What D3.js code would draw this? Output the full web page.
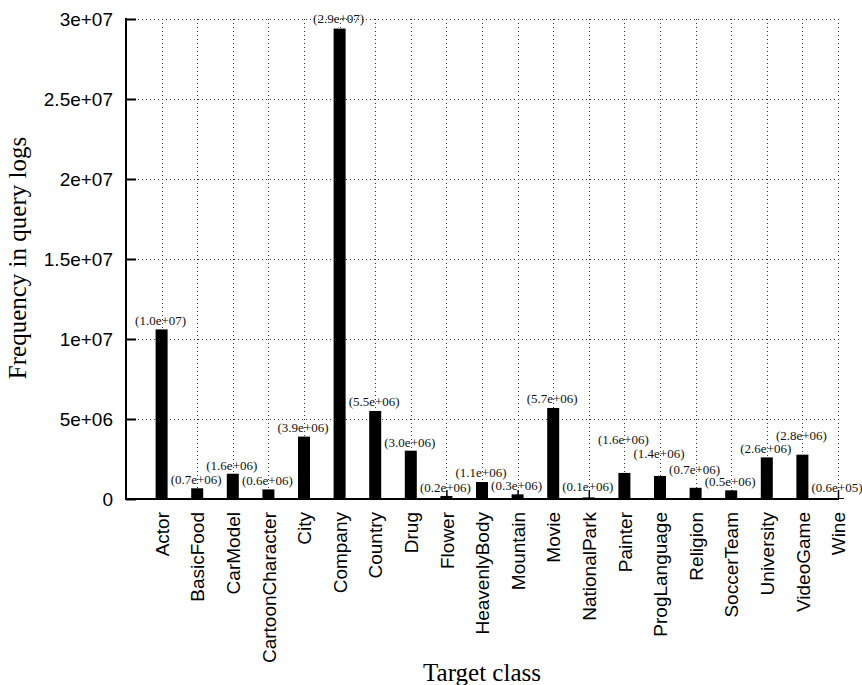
<!DOCTYPE html>
<html lang="en">
<head>
  <meta charset="UTF-8" />
  <title>Frequency in query logs by target class</title>
  <script src="https://cdn.jsdelivr.net/npm/d3@7"></script>
  <style>
    html, body { margin: 0; padding: 0; background: #fff; }
    svg { display: block; }
  </style>
</head>
<body>
  <script>
    // ----------------------------
    // Data
    // ----------------------------
    const classes = ["Actor", "BasicFood", "CarModel", "CartoonCharacter", "City", "Company",
      "Country", "Drug", "Flower", "HeavenlyBody", "Mountain", "Movie", "NationalPark",
      "Painter", "ProgLanguage", "Religion", "SoccerTeam", "University", "VideoGame", "Wine"];
    const frequency = [1.06e7, 0.67e6, 1.58e6, 0.60e6, 3.9e6, 2.94e7,
      5.5e6, 3.02e6, 0.19e6, 1.06e6, 0.29e6, 5.69e6, 0.10e6,
      1.63e6, 1.44e6, 0.70e6, 0.54e6, 2.6e6, 2.77e6, 0.06e6];
    const valueLabels = ["(1.0e+07)", "(0.7e+06)", "(1.6e+06)", "(0.6e+06)", "(3.9e+06)", "(2.9e+07)",
      "(5.5e+06)", "(3.0e+06)", "(0.2e+06)", "(1.1e+06)", "(0.3e+06)", "(5.7e+06)", "(0.1e+06)",
      "(1.6e+06)", "(1.4e+06)", "(0.7e+06)", "(0.5e+06)", "(2.6e+06)", "(2.8e+06)", "(0.6e+05)"];
    const yTicks = [0, 5e6, 1e7, 1.5e7, 2e7, 2.5e7, 3e7];
    const yTickLabels = ["0", "5e+06", "1e+07", "1.5e+07", "2e+07", "2.5e+07", "3e+07"];

    // layout: how far (px) each value label sits above its bar
    const labelRaise = [4, 4, 4, 4, 5, 6, 5, 4, 4, 5, 4, 5, 6, 29, 18, 14, 4, 4, 15, 6];

    // ----------------------------
    // Dimensions
    // ----------------------------
    const width = 862, height = 685;
    const plotLeft = 126, plotRight = 838, plotTop = 19, plotBottom = 499;
    const barWidth = 12;
    const serif = "'Liberation Serif', 'Times New Roman', serif";
    const sans = "'Liberation Sans', Arial, sans-serif";

    const svg = d3.select("body").append("svg")
      .attr("width", width)
      .attr("height", height);

    // x is an index scale: -1 .. 19, like the gnuplot xrange
    const x = d3.scaleLinear().domain([-1, classes.length - 1]).range([plotLeft, plotRight]);
    const y = d3.scaleLinear().domain([0, 3e7]).range([plotBottom, plotTop]);

    // ----------------------------
    // Dotted grid
    // ----------------------------
    const grid = svg.append("g")
      .attr("stroke", "#333")
      .attr("stroke-width", 1)
      .attr("stroke-dasharray", "1,3")
      .attr("shape-rendering", "crispEdges");

    grid.selectAll("line.h")
      .data(yTicks.slice(1))
      .join("line")
        .attr("class", "h")
        .attr("x1", plotLeft).attr("x2", plotRight)
        .attr("y1", d => Math.round(y(d)) + 0.5)
        .attr("y2", d => Math.round(y(d)) + 0.5);

    grid.selectAll("line.v")
      .data(classes)
      .join("line")
        .attr("class", "v")
        .attr("x1", (d, i) => Math.round(x(i)) + 0.5)
        .attr("x2", (d, i) => Math.round(x(i)) + 0.5)
        .attr("y1", plotTop).attr("y2", plotBottom);

    // ----------------------------
    // Bars
    // ----------------------------
    svg.append("g")
      .selectAll("rect")
      .data(frequency)
      .join("rect")
        .attr("x", (d, i) => x(i) - barWidth / 2)
        .attr("y", d => y(d))
        .attr("width", barWidth)
        .attr("height", d => plotBottom - y(d))
        .attr("fill", "#000");

    // ----------------------------
    // Axes (gnuplot style: ticks point inward)
    // ----------------------------
    const yAxis = svg.append("g")
      .attr("transform", `translate(${plotLeft},0)`)
      .call(d3.axisRight(y).tickValues(yTicks).tickSize(10).tickFormat(""));
    yAxis.select(".domain").remove();
    yAxis.selectAll(".tick line").attr("stroke", "#000").attr("stroke-width", 2);

    yAxis.selectAll(".tick")
      .append("text")
        .attr("x", -13)
        .attr("dy", "0.35em")
        .attr("text-anchor", "end")
        .attr("fill", "#000")
        .style("font-family", sans)
        .style("font-size", "19px")
        .text((d, i) => yTickLabels[i]);

    const xAxis = svg.append("g")
      .attr("transform", `translate(0,${plotBottom})`)
      .call(d3.axisTop(x).tickValues(d3.range(classes.length)).tickSize(9).tickFormat(""));
    xAxis.select(".domain").remove();
    xAxis.selectAll(".tick line").attr("stroke", "#000").attr("stroke-width", 1.5);

    xAxis.selectAll(".tick")
      .append("text")
        .attr("transform", "rotate(-90)")
        .attr("x", -13)
        .attr("y", 0)
        .attr("dy", "0.35em")
        .attr("text-anchor", "end")
        .attr("fill", "#000")
        .style("font-family", sans)
        .style("font-size", "19px")
        .text(d => classes[d]);

    // axis lines drawn last so they stay on top
    svg.append("line")
      .attr("x1", plotLeft).attr("x2", plotLeft)
      .attr("y1", plotTop - 1).attr("y2", plotBottom + 1)
      .attr("stroke", "#000").attr("stroke-width", 2);
    svg.append("line")
      .attr("x1", plotLeft - 1).attr("x2", plotRight + 1)
      .attr("y1", plotBottom).attr("y2", plotBottom)
      .attr("stroke", "#000").attr("stroke-width", 2);

    // ----------------------------
    // Value labels above bars
    // ----------------------------
    svg.append("g")
      .selectAll("text")
      .data(frequency)
      .join("text")
        .attr("x", (d, i) => x(i) - 1)
        .attr("y", (d, i) => y(d) - labelRaise[i])
        .attr("text-anchor", "middle")
        .style("font-family", serif)
        .style("font-size", "13px")
        .attr("fill", "#111")
        .text((d, i) => valueLabels[i]);

    // ----------------------------
    // Axis titles
    // ----------------------------
    svg.append("text")
      .attr("x", 482)
      .attr("y", 681)
      .attr("text-anchor", "middle")
      .style("font-family", serif)
      .style("font-size", "25px")
      .text("Target class");

    svg.append("text")
      .attr("transform", "translate(26,258) rotate(-90)")
      .attr("text-anchor", "middle")
      .style("font-family", serif)
      .style("font-size", "25px")
      .text("Frequency in query logs");
  </script>
</body>
</html>
